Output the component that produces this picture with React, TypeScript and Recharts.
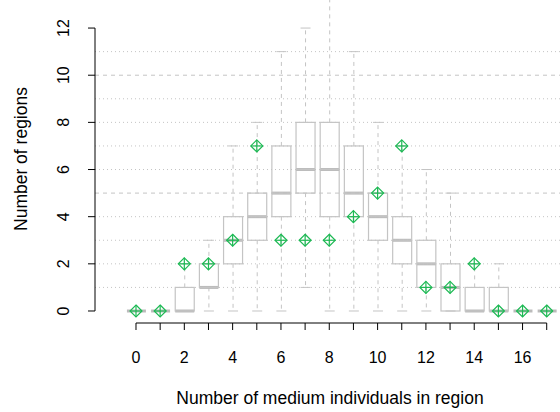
import { ComposedChart, Bar, Scatter, XAxis, YAxis, ReferenceLine } from 'recharts'

// one box per count of medium individuals, 0..17
const positions = [0, 1, 2, 3, 4, 5, 6, 7, 8, 9, 10, 11, 12, 13, 14, 15, 16, 17]
const whiskerLow = [0, 0, 0, 0, 0, 0, 0, 1, 0, 0, 0, 0, 0, 0, 0, 0, 0, 0]
const q1 = [0, 0, 0, 1, 2, 3, 4, 5, 4, 4, 3, 2, 1, 0, 0, 0, 0, 0]
const median = [0, 0, 0, 1, 3, 4, 5, 6, 6, 5, 4, 3, 2, 1, 0, 0, 0, 0]
const q3 = [0, 0, 1, 2, 4, 5, 7, 8, 8, 7, 5, 4, 3, 2, 1, 1, 0, 0]
const whiskerHigh = [0, 0, 2, 3, 7, 8, 11, 12, 14, 11, 8, 7, 6, 5, 2, 2, 0, 0]
// observed counts (green diamonds)
const observed = [0, 0, 2, 2, 3, 7, 3, 3, 3, 4, 5, 7, 1, 1, 2, 0, 0, 0]

const yTicks = [0, 2, 4, 6, 8, 10, 12]
const dottedLevels = [1, 2, 3, 4, 6, 7, 8, 9, 11]
const dashedLevels = [5, 10]

const X_DOMAIN: [number, number] = [-1.697, 17.55]
const Y_DOMAIN: [number, number] = [-0.509, 13.19]

const GRAY = '#c4c4c4'
const GREEN = '#1db954'
const FONT = '"Liberation Sans", Arial, sans-serif'

const data = positions.map((x, i) => ({
  x,
  base: whiskerLow[i],
  lw: q1[i] - whiskerLow[i],
  b1: median[i] - q1[i],
  b2: q3[i] - median[i],
  uw: whiskerHigh[i] - q3[i],
  obs: observed[i],
}))

const Empty = () => <g />

const LowerWhisker = ({ x, y, width, height }: any) => {
  const cx = x + width / 2
  const bottom = y + height
  return (
    <g>
      {height > 0 && (
        <line x1={cx} x2={cx} y1={y} y2={bottom} stroke={GRAY} strokeDasharray="4 4" />
      )}
      <line x1={cx - 5} x2={cx + 5} y1={bottom} y2={bottom} stroke={GRAY} />
    </g>
  )
}

const UpperWhisker = ({ x, y, width, height }: any) => {
  const cx = x + width / 2
  return (
    <g>
      {height > 0 && (
        <line x1={cx} x2={cx} y1={y + height} y2={y} stroke={GRAY} strokeDasharray="4 4" />
      )}
      {/* whisker running off the top of the plot has no visible staple */}
      {y > 2 && <line x1={cx - 5} x2={cx + 5} y1={y} y2={y} stroke={GRAY} />}
    </g>
  )
}

// q1 -> median, median drawn as thick line on top edge
const BoxLow = ({ x, y, width, height }: any) => (
  <g>
    {height > 0 && <rect x={x} y={y} width={width} height={height} fill="none" stroke={GRAY} strokeWidth={1.2} />}
    <line x1={x} x2={x + width} y1={y} y2={y} stroke="#bbbbbb" strokeWidth={3} />
  </g>
)

const BoxHigh = ({ x, y, width, height }: any) =>
  height > 0 ? <rect x={x} y={y} width={width} height={height} fill="none" stroke={GRAY} strokeWidth={1.2} /> : <g />

const Diamond = ({ cx, cy }: any) => {
  const r = 6
  return (
    <g stroke={GREEN} strokeWidth={1.2} fill="none">
      <polygon points={`${cx},${cy - r} ${cx + r},${cy} ${cx},${cy + r} ${cx - r},${cy}`} />
      <line x1={cx - r} x2={cx + r} y1={cy} y2={cy} />
      <line x1={cx} x2={cx} y1={cy - r} y2={cy + r} />
    </g>
  )
}

const XTick = ({ x, y, payload }: any) => (
  <g>
    <line x1={x} x2={x} y1={y} y2={y + 7} stroke="#000" />
    {payload.value % 2 === 0 && (
      <text x={x} y={y + 40} textAnchor="middle" fontSize={16} fill="#000" fontFamily={FONT}>
        {payload.value}
      </text>
    )}
  </g>
)

const YTick = ({ x, y, payload }: any) => (
  <g>
    <line x1={x - 7} x2={x} y1={y} y2={y} stroke="#000" />
    <text
      x={69} y={y} textAnchor="middle" fontSize={16} fill="#000" fontFamily={FONT}
      transform={`rotate(-90, 69, ${y})`}
    >
      {payload.value}
    </text>
  </g>
)

export default function App() {
  return (
    <div style={{ position: 'relative', width: 560, height: 412, background: '#fff' }}>
      <style>{'body{margin:0}'}</style>
      <ComposedChart width={560} height={412} data={data} margin={{ top: 0, right: 0, left: 0, bottom: 0 }}>
        <XAxis
          dataKey="x" type="number" domain={X_DOMAIN} allowDataOverflow ticks={positions} interval={0}
          axisLine={false} tickLine={false} tickSize={0} tickMargin={0} height={89} tick={<XTick />}
        />
        <YAxis
          type="number" domain={Y_DOMAIN} allowDataOverflow ticks={yTicks} interval={0}
          axisLine={false} tickLine={false} tickSize={0} tickMargin={0} width={95} tick={<YTick />}
        />
        {dottedLevels.map((v) => (
          <ReferenceLine key={'d' + v} y={v} stroke={GRAY} strokeDasharray="1 3" />
        ))}
        {dashedLevels.map((v) => (
          <ReferenceLine key={'s' + v} y={v} stroke={GRAY} strokeDasharray="4 4" />
        ))}
        <Bar dataKey="base" stackId="box" barSize={19} shape={<Empty />} isAnimationActive={false} />
        <Bar dataKey="lw" stackId="box" barSize={19} shape={<LowerWhisker />} isAnimationActive={false} />
        <Bar dataKey="b1" stackId="box" barSize={19} shape={<BoxLow />} isAnimationActive={false} />
        <Bar dataKey="b2" stackId="box" barSize={19} shape={<BoxHigh />} isAnimationActive={false} />
        <Bar dataKey="uw" stackId="box" barSize={19} shape={<UpperWhisker />} isAnimationActive={false} />
        <Scatter dataKey="obs" shape={<Diamond />} isAnimationActive={false} />
        <ReferenceLine
          segment={[{ x: 0, y: Y_DOMAIN[0] }, { x: 17, y: Y_DOMAIN[0] }]}
          stroke="#000" ifOverflow="visible"
        />
        <ReferenceLine
          segment={[{ x: X_DOMAIN[0], y: 0 }, { x: X_DOMAIN[0], y: 12 }]}
          stroke="#000" ifOverflow="visible"
        />
      </ComposedChart>
      <svg width={560} height={412} style={{ position: 'absolute', left: 0, top: 0, pointerEvents: 'none' }}>
        <text x={330} y={404} textAnchor="middle" fontSize={17.5} fill="#000" fontFamily={FONT}>
          Number of medium individuals in region
        </text>
        <text
          x={27} y={159} textAnchor="middle" fontSize={17.5} fill="#000" fontFamily={FONT}
          transform="rotate(-90, 27, 159)"
        >
          Number of regions
        </text>
      </svg>
    </div>
  )
}
